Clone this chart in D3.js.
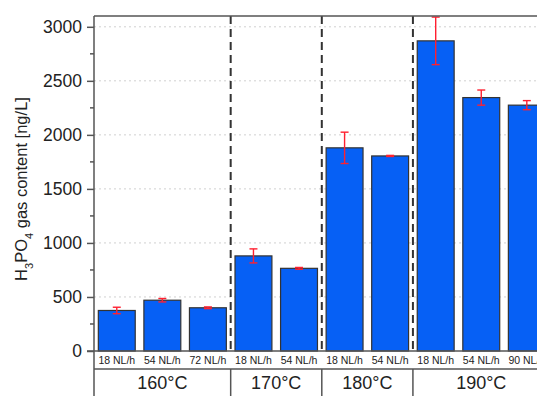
<!DOCTYPE html>
<html>
<head>
<meta charset="utf-8">
<script src="https://cdn.jsdelivr.net/npm/d3@7"></script>
<style>
  body { margin: 0; background: #fff; }
  text { font-family: "Liberation Sans", Arial, sans-serif; fill: #222; }
</style>
</head>
<body>
<script>
// data
var groups = ["160°C", "170°C", "180°C", "190°C"];
var groupSizes = [3, 2, 2, 3];
var flows = ["18 NL/h", "54 NL/h", "72 NL/h", "18 NL/h", "54 NL/h", "18 NL/h", "54 NL/h", "18 NL/h", "54 NL/h", "90 NL/h"];
var values = [375, 470, 400, 880, 765, 1880, 1805, 2870, 2345, 2275];
var errors = [30, 16, 8, 65, 8, 145, 5, 220, 70, 42];
var yTicks = [0, 500, 1000, 1500, 2000, 2500, 3000];

var W = 537, H = 396;
// plot box (note: "top" is reserved on window, so use other names)
var pLeft = 94, pTop = 16, pBottom = 351, pRight = 549.6;

var svg = d3.select("body").append("svg")
  .attr("width", W).attr("height", H);

var ids = d3.range(values.length);
var x = d3.scaleBand().domain(ids).range([pLeft, pRight]).paddingInner(0.19).paddingOuter(0.095);
var y = d3.scaleLinear().domain([0, 3100]).range([pBottom, pTop]);

// grid
svg.append("g").selectAll("line").data(yTicks.slice(1)).join("line")
  .attr("x1", pLeft).attr("x2", W)
  .attr("y1", d => y(d)).attr("y2", d => y(d))
  .style("stroke", "#d0d0d0").style("stroke-width", 1).style("stroke-dasharray", "2,3");

// group boundaries (dashed)
var bounds = [];
var acc = 0;
groupSizes.forEach(function(n) { acc += n; bounds.push(acc); });
var step = x.step();
var boundX = function(i) { return pLeft + i * step; };

svg.append("g").selectAll("line").data(bounds.slice(0, -1)).join("line")
  .attr("x1", d => boundX(d)).attr("x2", d => boundX(d))
  .attr("y1", pTop).attr("y2", pBottom)
  .style("stroke", "#333").style("stroke-width", 2).style("stroke-dasharray", "8,5");

// bars
svg.append("g").selectAll("rect").data(ids).join("rect")
  .attr("x", d => x(d)).attr("width", x.bandwidth())
  .attr("y", d => y(values[d])).attr("height", d => y(0) - y(values[d]))
  .style("fill", "#0660f5").style("stroke", "#333").style("stroke-width", 1.2);

// error bars
var eb = svg.append("g").style("stroke", "#ff2030").style("stroke-width", 1.4);
ids.forEach(function(d) {
  var cx = x(d) + x.bandwidth() / 2;
  var y1 = y(values[d] + errors[d]), y2 = y(values[d] - errors[d]);
  eb.append("line").attr("x1", cx).attr("x2", cx).attr("y1", y1).attr("y2", y2);
  eb.append("line").attr("x1", cx - 4).attr("x2", cx + 4).attr("y1", y1).attr("y2", y1);
  eb.append("line").attr("x1", cx - 4).attr("x2", cx + 4).attr("y1", y2).attr("y2", y2);
});

// frame
var frame = svg.append("g").style("stroke", "#555").style("stroke-width", 1.5);
frame.append("line").attr("x1", pLeft).attr("x2", W).attr("y1", pTop).attr("y2", pTop);
frame.append("line").attr("x1", pLeft).attr("x2", pLeft).attr("y1", pTop).attr("y2", H);
frame.append("line").attr("x1", pLeft - 7).attr("x2", W).attr("y1", pBottom).attr("y2", pBottom);
frame.append("line").attr("x1", pLeft).attr("x2", W).attr("y1", 369).attr("y2", 369);
frame.selectAll(".sep").data(bounds.slice(0, -1)).join("line")
  .attr("x1", d => boundX(d)).attr("x2", d => boundX(d))
  .attr("y1", 369).attr("y2", H);

// y axis
var yAxis = d3.axisLeft(y).tickValues(yTicks).tickFormat(d3.format("d")).tickSize(7).tickPadding(5);
var ga = svg.append("g").attr("transform", "translate(" + pLeft + ",0)").call(yAxis);
ga.select(".domain").remove();
ga.selectAll("line").style("stroke", "#555").style("stroke-width", 1.5);
ga.selectAll("text").style("font-size", "17.5px").style("font-family", "Liberation Sans, Arial, sans-serif").attr("fill", "#222");

var minor = d3.range(250, 3100, 500);
svg.append("g").selectAll("line").data(minor).join("line")
  .attr("x1", pLeft - 4).attr("x2", pLeft)
  .attr("y1", d => y(d)).attr("y2", d => y(d))
  .style("stroke", "#555").style("stroke-width", 1.5);

// flow labels
svg.append("g").selectAll("text").data(ids).join("text")
  .attr("x", d => x(d) + x.bandwidth() / 2).attr("y", 364)
  .attr("text-anchor", "middle")
  .style("font-size", "10.5px")
  .text(d => flows[d]);

// group labels
var starts = [0].concat(bounds.slice(0, -1));
svg.append("g").selectAll("text").data(groups).join("text")
  .attr("x", (d, i) => (boundX(starts[i]) + boundX(bounds[i])) / 2)
  .attr("y", 389)
  .attr("text-anchor", "middle")
  .style("font-size", "18px")
  .text(d => d);

// y label
var yl = svg.append("text")
  .attr("transform", "translate(27,189) rotate(-90)")
  .attr("text-anchor", "middle")
  .style("font-size", "16.5px");
yl.append("tspan").text("H");
yl.append("tspan").attr("baseline-shift", "sub").style("font-size", "11px").text("3");
yl.append("tspan").text("PO");
yl.append("tspan").attr("baseline-shift", "sub").style("font-size", "11px").text("4");
yl.append("tspan").text(" gas content [ng/L]");
</script>
</body>
</html>
